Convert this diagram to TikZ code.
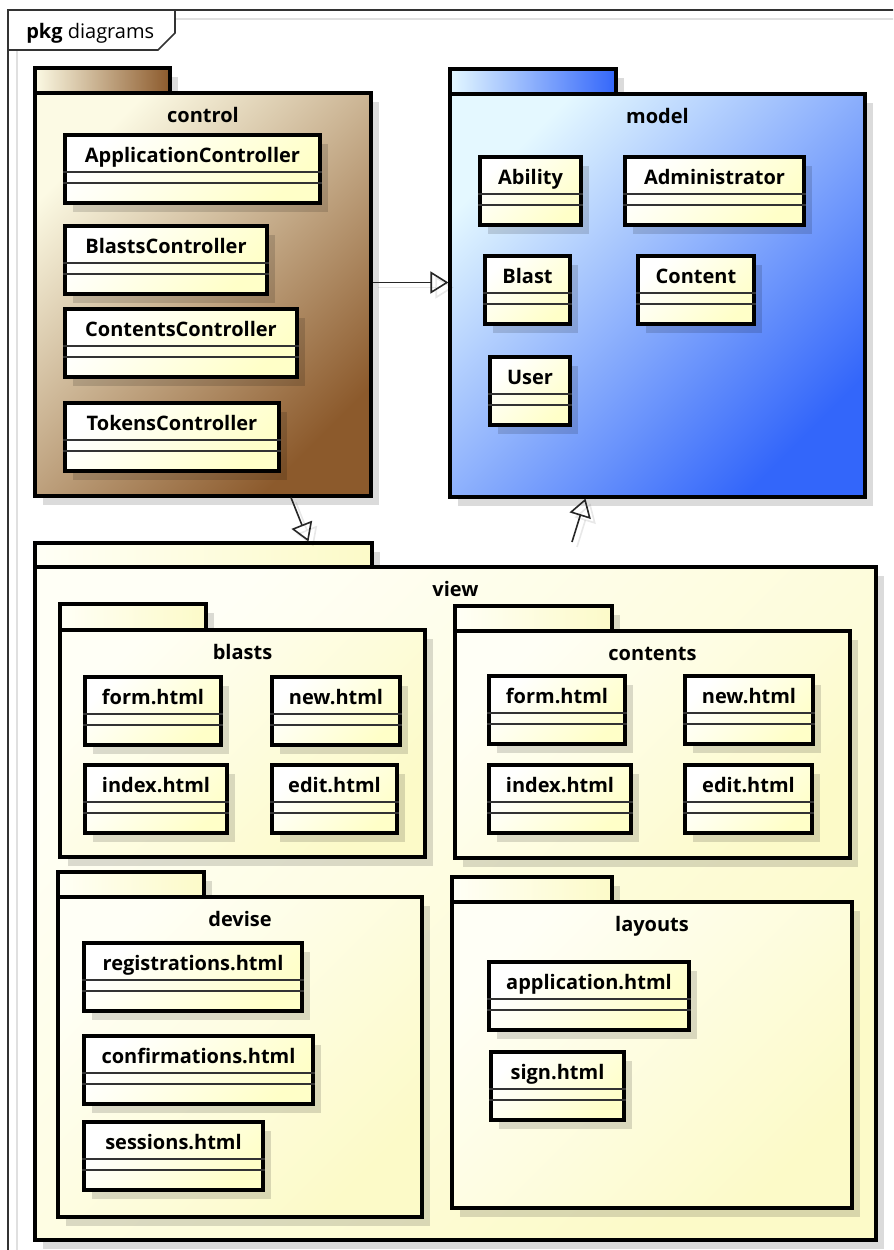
\documentclass[tikz,border=0pt]{standalone}
\usepackage{fontspec}
\setmainfont{Open Sans}
\usetikzlibrary{arrows.meta,calc,fit,shadows}

% palette
\definecolor{cream}{HTML}{FCFAE4}
\definecolor{brown}{HTML}{8C5A2C}
\definecolor{skyblue}{HTML}{E4F8FF}
\definecolor{deepblue}{HTML}{3366FA}
\definecolor{paleyellow}{HTML}{FCFAC8}
\definecolor{paleivory}{HTML}{FFFFF6}
\definecolor{classyellow}{HTML}{FFFFC8}

\tikzset{
  x=0.75pt, y=-0.75pt,
  boxshadow/.style={drop shadow={shadow xshift=6pt, shadow yshift=-6.5pt, opacity=0.14, fill=black}},
  outline/.style={draw=black, line width=2.3pt, inner sep=0pt},
  classbox/.style={outline, top color=white, bottom color=classyellow, shading angle=45, boxshadow},
  compline/.style={draw=black!80, line width=1.5pt},
  classname/.style={font=\bfseries\fontsize{15}{18}\selectfont, inner sep=0pt, anchor=base},
  pkglabel/.style={font=\bfseries\fontsize{15}{18}\selectfont, inner sep=0pt, anchor=base},
  tabbox/.style={outline, boxshadow},
  pkgbody/.style={outline, boxshadow},
  browntab/.style={left color=cream, right color=brown},
  brownbody/.style={top color=cream, bottom color=brown, shading angle=45},
  bluetab/.style={left color=skyblue, right color=deepblue},
  bluebody/.style={top color=skyblue, bottom color=deepblue, shading angle=45},
  paletab/.style={left color=paleivory, right color=paleyellow},
  palebody/.style={top color=paleivory, bottom color=paleyellow, shading angle=45},
  gen/.style={draw=black!85, line width=1.2pt,
    -{Triangle[open, length=13.5pt, width=16.5pt, line width=1.2pt]}},
  genshadow/.style={gen, draw=black, opacity=0.09, transform canvas={shift={(5,5)}}},
}

% class box: name, x1, y1, x2, text
\newcommand\umlclass[5]{%
  \node[classbox, fit={(#2,#3)(#4,#3+68)}] (#1) {};
  \draw[compline] ($(#1.north west)+(0,39)$) -- ($(#1.north east)+(0,39)$);
  \draw[compline] ($(#1.north west)+(0,50)$) -- ($(#1.north east)+(0,50)$);
  \node[classname] (#1-name) at ($(#1.north)+(0,29)$) {#5};
}

% package: name, x1, tab top, tab right, body top, x2, y2, label, palette
\newcommand\umlpackage[9]{%
  \node[tabbox, #9tab, fit={(#2,#3)(#4,#5)}] (#1-tab) {};
  \node[pkgbody, #9body, fit={(#2,#5)(#6,#7)}] (#1) {};
  \node[pkglabel] (#1-label) at ($(#1.north)+(0,31)$) {#8};
}

\begin{document}
\begin{tikzpicture}
\useasboundingbox (0,0) rectangle (893,1250);
\clip (0,0) rectangle (893,1250);
\fill[white] (0,0) rectangle (893,1250);

% diagram frame
\draw[black!12, line width=1.2pt] (17,1260) -- (17,50);
\draw[black!12, line width=1.2pt] (176,19) -- (900,19);
\draw[black!80, line width=1.2pt] (8,1260) -- (8,10) -- (900,10);
\draw[black!80, line width=1.2pt, fill=white] (8,10) -- (175,10) -- (175,33) -- (158,50) -- (8,50) -- cycle;
\node[anchor=base west, inner sep=0pt, font=\fontsize{15}{18}\selectfont] (frametitle) at (26,38) {\textbf{pkg} diagrams};

% control
\umlpackage{control}{35}{68}{170}{93}{371}{496}{control}{brown}
\umlclass{appctl}{65}{135}{320}{ApplicationController}
\umlclass{blastsctl}{65}{226}{267}{BlastsController}
\umlclass{contentsctl}{65}{309}{297}{ContentsController}
\umlclass{tokensctl}{65}{403}{279}{TokensController}

% model
\umlpackage{model}{450}{69}{616}{94}{865}{497}{model}{blue}
\umlclass{ability}{480}{157}{581}{Ability}
\umlclass{admin}{625}{157}{804}{Administrator}
\umlclass{blast}{485}{256}{570}{Blast}
\umlclass{content}{638}{256}{754}{Content}
\umlclass{user}{490}{357}{570}{User}

% view
\umlpackage{view}{35}{543}{372}{567}{876}{1240}{view}{pale}

\umlpackage{blasts}{60}{604}{206}{630}{425}{857}{blasts}{pale}
\umlclass{blasts-form}{85}{677}{221}{form.html}
\umlclass{blasts-new}{272}{677}{400}{new.html}
\umlclass{blasts-index}{85}{765}{227}{index.html}
\umlclass{blasts-edit}{272}{765}{397}{edit.html}

\umlpackage{contents}{455}{606}{612}{631}{850}{858}{contents}{pale}
\umlclass{contents-form}{489}{676}{625}{form.html}
\umlclass{contents-new}{685}{676}{813}{new.html}
\umlclass{contents-index}{489}{765}{631}{index.html}
\umlclass{contents-edit}{685}{765}{812}{edit.html}

\umlpackage{devise}{58}{872}{204}{897}{422}{1217}{devise}{pale}
\umlclass{registrations}{84}{943}{302}{registrations.html}
\umlclass{confirmations}{84}{1036}{313}{confirmations.html}
\umlclass{sessions}{84}{1122}{263}{sessions.html}

\umlpackage{layouts}{452}{877}{612}{902}{852}{1208}{layouts}{pale}
\umlclass{application}{489}{962}{689}{application.html}
\umlclass{sign}{491}{1052}{624}{sign.html}

% dependencies between packages
\coordinate (viewsrc) at (572,542);
\draw[genshadow] ($(control.east)+(0,-12)$) -- ($(model.west)+(0,-13)$);
\draw[gen] ($(control.east)+(0,-12)$) -- ($(model.west)+(0,-13)$);
\draw[genshadow] ($(control.south)+(88,0)$) -- ($(view-tab.north west)+(275,0)$);
\draw[gen] ($(control.south)+(88,0)$) -- ($(view-tab.north west)+(275,0)$);
\draw[genshadow] (viewsrc) -- ($(model.south)+(-72,0)$);
\draw[gen] (viewsrc) -- ($(model.south)+(-72,0)$);
\end{tikzpicture}
\end{document}
